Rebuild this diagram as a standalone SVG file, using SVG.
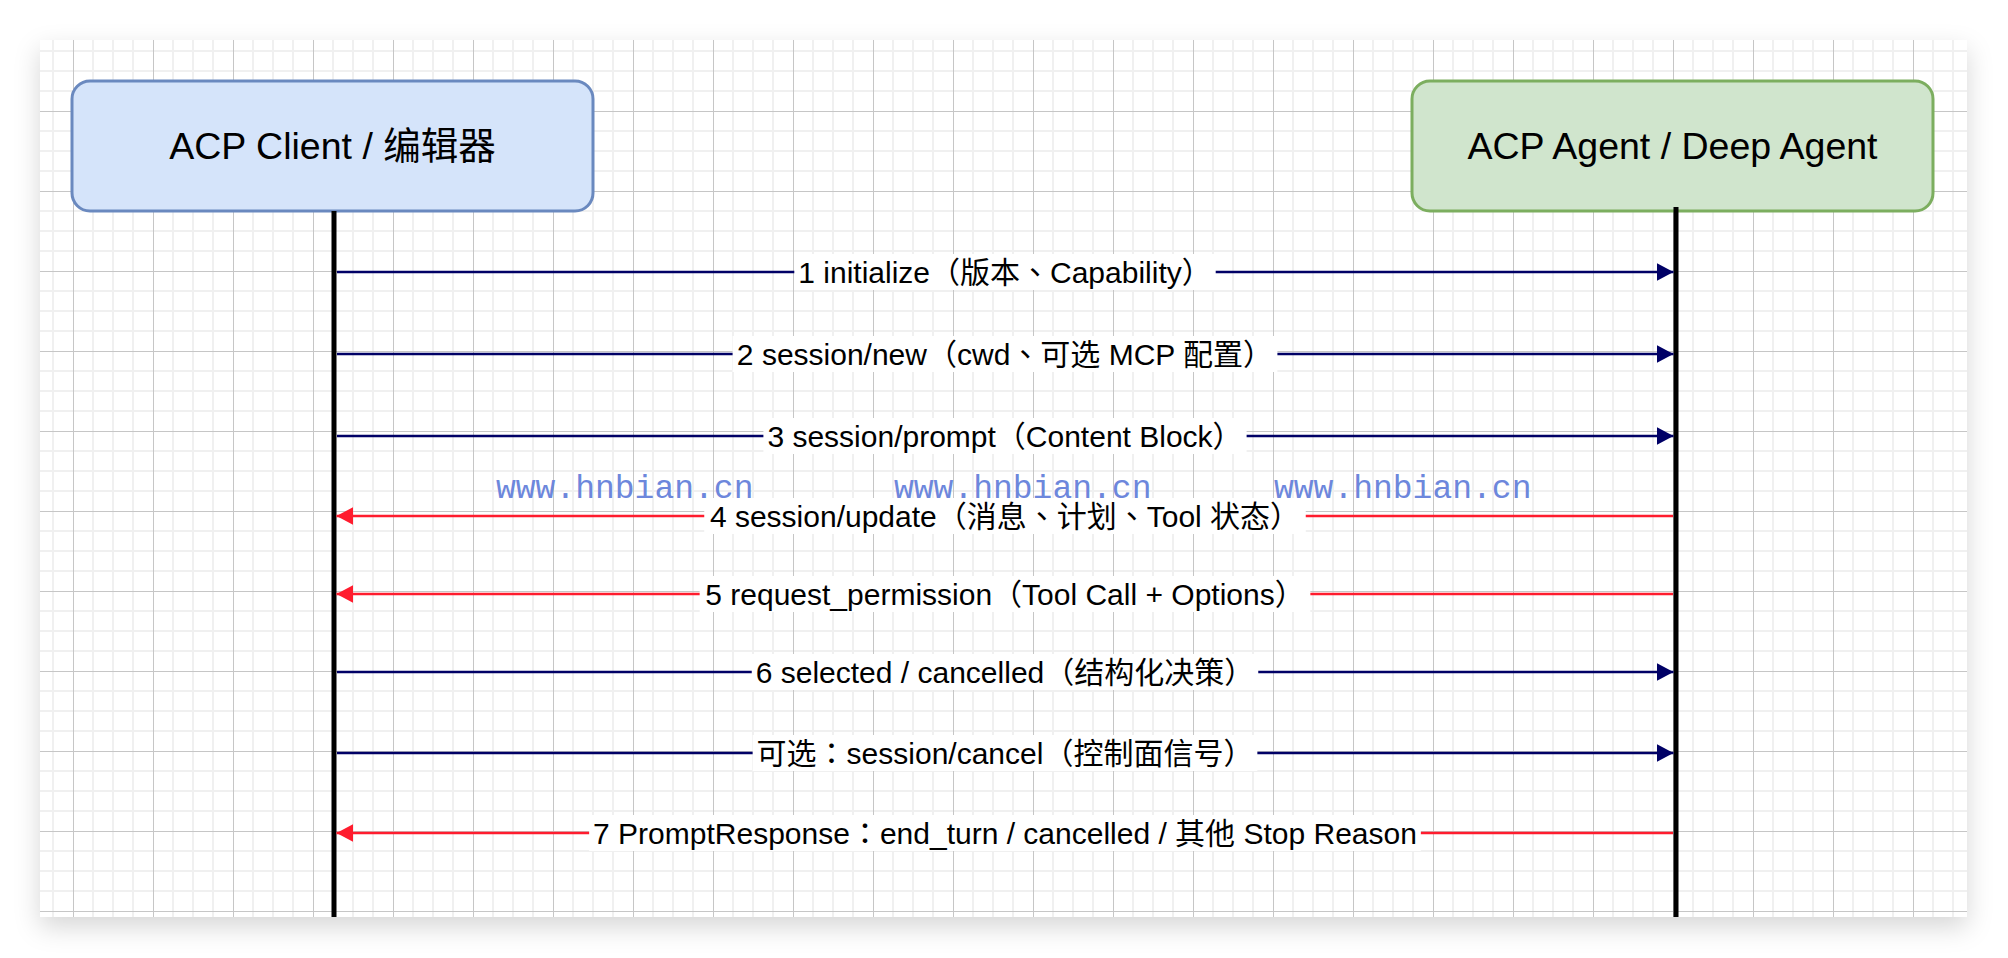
<svg xmlns="http://www.w3.org/2000/svg" width="2008" height="958" viewBox="0 0 2008 958">
  <style>
    .node-label { font-family: "Liberation Sans", "Noto Sans CJK SC", sans-serif; font-size: 37.5px; fill: #000; text-anchor: middle; }
    .msg-label { font-family: "Liberation Sans", "Noto Sans CJK SC", sans-serif; font-size: 30px; fill: #000; text-anchor: middle; }
    .cpunct { font-family: "Noto Sans CJK TC", "Noto Sans CJK SC", sans-serif; }
    .msg-bg { fill: #ffffff; }
    .req { stroke: #000066; stroke-width: 2.5; fill: none; marker-end: url(#ahNavy); }
    .resp { stroke: #ff1c2e; stroke-width: 2.5; fill: none; marker-end: url(#ahRed); }
    .lifeline { stroke: #000; stroke-width: 5; }
    .wm { font-family: "Liberation Mono", "DejaVu Sans Mono", monospace; font-size: 33px; fill: #6d87dc; }
  </style>
  <defs>
    <filter id="shadow" x="-5%" y="-8%" width="110%" height="120%">
      <feDropShadow dx="0" dy="10" stdDeviation="13" flood-color="#000" flood-opacity="0.16"/>
    </filter>
    <pattern id="grid" patternUnits="userSpaceOnUse" x="73" y="111" width="80" height="80">
      <rect x="19" y="0" width="2" height="80" fill="#f0f0f0"/>
      <rect x="39" y="0" width="2" height="80" fill="#f0f0f0"/>
      <rect x="59" y="0" width="2" height="80" fill="#f0f0f0"/>
      <rect x="0" y="19" width="80" height="2" fill="#f0f0f0"/>
      <rect x="0" y="39" width="80" height="2" fill="#f0f0f0"/>
      <rect x="0" y="59" width="80" height="2" fill="#f0f0f0"/>
      <rect x="0" y="0" width="1" height="80" fill="#c6c6c6"/>
      <rect x="0" y="0" width="80" height="1" fill="#c6c6c6"/>
    </pattern>
    <marker id="ahNavy" markerUnits="userSpaceOnUse" markerWidth="17" markerHeight="18" refX="16.5" refY="8.75" orient="auto">
      <path d="M0,0 L16.5,8.75 L0,17.5 Z" fill="#000066"/>
    </marker>
    <marker id="ahRed" markerUnits="userSpaceOnUse" markerWidth="17" markerHeight="18" refX="16.5" refY="8.75" orient="auto">
      <path d="M0,0 L16.5,8.75 L0,17.5 Z" fill="#ff1c2e"/>
    </marker>
  </defs>

  <rect x="0" y="0" width="2008" height="958" fill="#ffffff"/>
  <rect x="40" y="40" width="1927" height="877" fill="#ffffff" filter="url(#shadow)"/>
  <rect x="40" y="40" width="1927" height="877" fill="url(#grid)"/>

  <g id="client">
    <rect x="72" y="81" width="521" height="130" rx="18" ry="18" fill="#d5e4fa" stroke="#6a89bf" stroke-width="3"/>
    <text class="node-label" x="332.5" y="159">ACP Client / 编辑器</text>
  </g>
  <g id="agent">
    <rect x="1412" y="81" width="521" height="130" rx="18" ry="18" fill="#d0e5cd" stroke="#7cae5f" stroke-width="3"/>
    <text class="node-label" x="1672.5" y="159">ACP Agent / Deep Agent</text>
  </g>

  <g id="lifelines">
    <line class="lifeline" x1="334" y1="211" x2="334" y2="917"/>
    <line class="lifeline" x1="1676" y1="207" x2="1676" y2="917"/>
  </g>

  <g id="connectors">
    <g id="msg1">
      <line class="req" x1="337" y1="272" x2="1673.5" y2="272"/>
      <rect class="msg-bg" x="794.3" y="254" width="421.4" height="36"/>
      <text class="msg-label" x="1005" y="282.5">1 initialize（版本<tspan class="cpunct">、</tspan>Capability）</text>
    </g>
    <g id="msg2">
      <line class="req" x1="337" y1="354" x2="1673.5" y2="354"/>
      <rect class="msg-bg" x="732.6" y="336" width="544.8" height="36"/>
      <text class="msg-label" x="1005" y="364.5">2 session/new（cwd<tspan class="cpunct">、</tspan>可选 MCP 配置）</text>
    </g>
    <g id="msg3">
      <line class="req" x1="337" y1="436" x2="1673.5" y2="436"/>
      <rect class="msg-bg" x="763.4" y="418" width="483.2" height="36"/>
      <text class="msg-label" x="1005" y="446.5">3 session/prompt（Content Block）</text>
    </g>
    <g id="msg4">
      <line class="resp" x1="1673" y1="516" x2="336.5" y2="516"/>
      <rect class="msg-bg" x="704.25" y="498" width="601.5" height="36"/>
      <text class="msg-label" x="1005" y="526.5">4 session/update（消息<tspan class="cpunct">、</tspan>计划<tspan class="cpunct">、</tspan>Tool 状态）</text>
    </g>
    <g id="msg5">
      <line class="resp" x1="1673" y1="594" x2="336.5" y2="594"/>
      <rect class="msg-bg" x="699.65" y="576" width="610.7" height="36"/>
      <text class="msg-label" x="1005" y="604.5">5 request_permission（Tool Call + Options）</text>
    </g>
    <g id="msg6">
      <line class="req" x1="337" y1="672" x2="1673.5" y2="672"/>
      <rect class="msg-bg" x="751.75" y="654" width="506.5" height="36"/>
      <text class="msg-label" x="1005" y="682.5">6 selected / cancelled（结构化决策）</text>
    </g>
    <g id="msg-cancel">
      <line class="req" x1="337" y1="753" x2="1673.5" y2="753"/>
      <rect class="msg-bg" x="752.65" y="735" width="504.7" height="36"/>
      <text class="msg-label" x="1005" y="763.5">可选<tspan class="cpunct">：</tspan>session/cancel（控制面信号）</text>
    </g>
    <g id="msg7">
      <line class="resp" x1="1673" y1="833" x2="336.5" y2="833"/>
      <rect class="msg-bg" x="589.15" y="815" width="831.7" height="36"/>
      <text class="msg-label" x="1005" y="843.5">7 PromptResponse<tspan class="cpunct">：</tspan>end_turn / cancelled / 其他 Stop Reason</text>
    </g>
  </g>

  <g id="watermark">
    <text class="wm" x="496" y="498">www.hnbian.cn</text>
    <text class="wm" x="894" y="498">www.hnbian.cn</text>
    <text class="wm" x="1274" y="498">www.hnbian.cn</text>
  </g>
</svg>
